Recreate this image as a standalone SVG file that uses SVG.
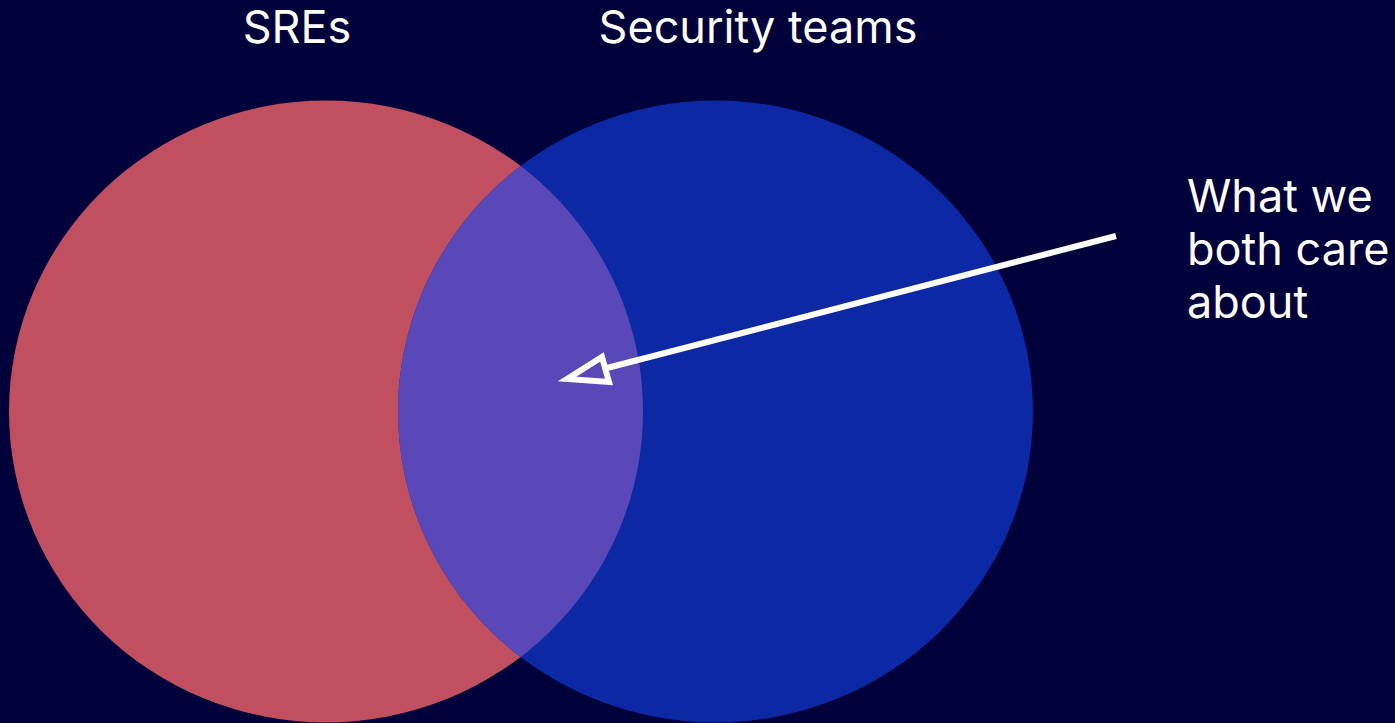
<svg xmlns="http://www.w3.org/2000/svg" width="1395" height="723" viewBox="0 0 1395 723">
<style>
.lbl{font-family:Inter,"Noto Sans","Liberation Sans",sans-serif;fill:#ffffff;font-size:45px}
</style>
<defs>
<clipPath id="clipRed"><ellipse cx="326" cy="411.5" rx="317" ry="311"/></clipPath>
</defs>
<rect width="1395" height="723" fill="#00003a"/>
<g id="sres">
<ellipse cx="326" cy="411.5" rx="317" ry="311" fill="#c04f60"/>
<text class="lbl" x="297" y="43" text-anchor="middle">SREs</text>
</g>
<g id="security">
<ellipse cx="715.5" cy="411.5" rx="317.5" ry="311" fill="#0c28a5"/>
<text class="lbl" x="758" y="43" text-anchor="middle">Security teams</text>
</g>
<g id="overlap">
<ellipse cx="715.5" cy="411.5" rx="317.5" ry="311" fill="#5a48b8" clip-path="url(#clipRed)"/>
</g>
<g id="note">
<text class="lbl"><tspan x="1187" y="212">What we</tspan><tspan x="1187" y="265">both care</tspan><tspan x="1187" y="318">about</tspan></text>
</g>
<g id="connectors">
<line x1="1116" y1="236" x2="607" y2="368" stroke="#ffffff" stroke-width="6"/>
<polygon points="567,379 602,357 609,382" fill="none" stroke="#ffffff" stroke-width="6" stroke-linejoin="miter"/>
</g>
</svg>
